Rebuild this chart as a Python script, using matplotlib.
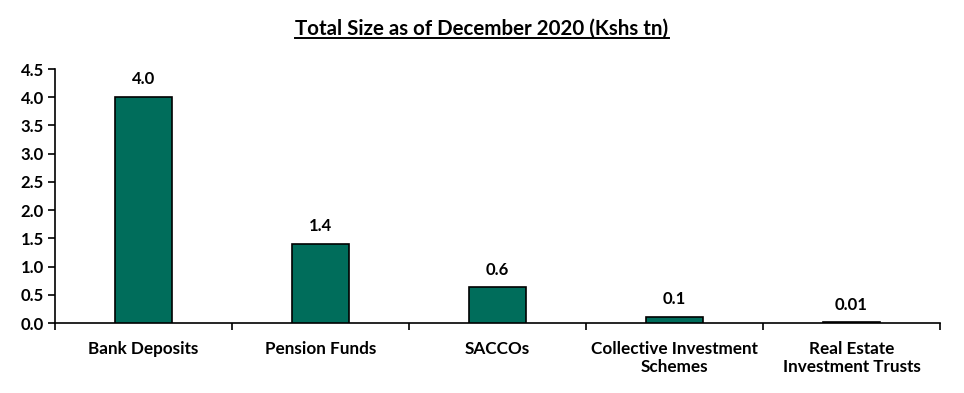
import numpy as np
import matplotlib
matplotlib.use("Agg")
import matplotlib.pyplot as plt
from matplotlib.lines import Line2D

categories = ["Bank Deposits", "Pension Funds", "SACCOs",
              "Collective Investment\nSchemes", "Real Estate\nInvestment Trusts"]
values = [4.0, 1.4, 0.63, 0.11, 0.01]
value_labels = ["4.0", "1.4", "0.6", "0.1", "0.01"]
yticks = [0.0, 0.5, 1.0, 1.5, 2.0, 2.5, 3.0, 3.5, 4.0, 4.5]

plt.rcParams['font.family'] = ['Lato', 'DejaVu Sans']
plt.rcParams['font.weight'] = 'bold'

fig = plt.figure(figsize=(9.64, 3.93), dpi=100)
ax = fig.add_axes([55 / 964, 1 - 323 / 393, 885 / 964, 254 / 393])

x = np.arange(len(categories))
ax.bar(x, values, width=0.32, color='#006D5B', edgecolor='black', linewidth=1.2, zorder=3)
for xi, v, lab in zip(x, values, value_labels):
    ax.annotate(lab, (xi, v), xytext=(0, 7), textcoords='offset points',
                ha='center', va='bottom', fontsize=12, fontweight='bold')

ax.set_xlim(-0.5, len(categories) - 0.5)
ax.set_ylim(0, 4.5)
ax.set_yticks(yticks)
ax.set_yticklabels([f"{t:.1f}" for t in yticks], fontsize=12, fontweight='bold')

# category boundaries as major ticks, labels on minor ticks
ax.set_xticks(np.arange(len(categories) + 1) - 0.5)
ax.set_xticklabels([])
ax.set_xticks(x, minor=True)
ax.set_xticklabels(categories, minor=True, fontsize=12.3, fontweight='bold', linespacing=1.15)
ax.tick_params(axis='x', which='minor', length=0, pad=13)
ax.tick_params(axis='x', which='major', length=5, width=1.2, direction='out')
ax.tick_params(axis='y', length=5, width=1.2, direction='out', pad=3)

for s in ['top', 'right']:
    ax.spines[s].set_visible(False)
ax.spines['left'].set_linewidth(1.2)
ax.spines['bottom'].set_linewidth(1.2)

title = fig.text(0.5, 1 - 29 / 393, "Total Size as of December 2020 (Kshs tn)",
                 ha='center', va='center', fontsize=14.8, fontweight='bold')
fig.canvas.draw()
bb = title.get_window_extent(renderer=fig.canvas.get_renderer())
inv = fig.transFigure.inverted()
(x0, y0), (x1, y1) = inv.transform([(bb.x0, bb.y0), (bb.x1, bb.y0)])
fig.lines.append(Line2D([x0, x1], [y0 + 0.002, y0 + 0.002], transform=fig.transFigure,
                        color='black', linewidth=1.4))

fig.savefig("out.png", dpi=100)
